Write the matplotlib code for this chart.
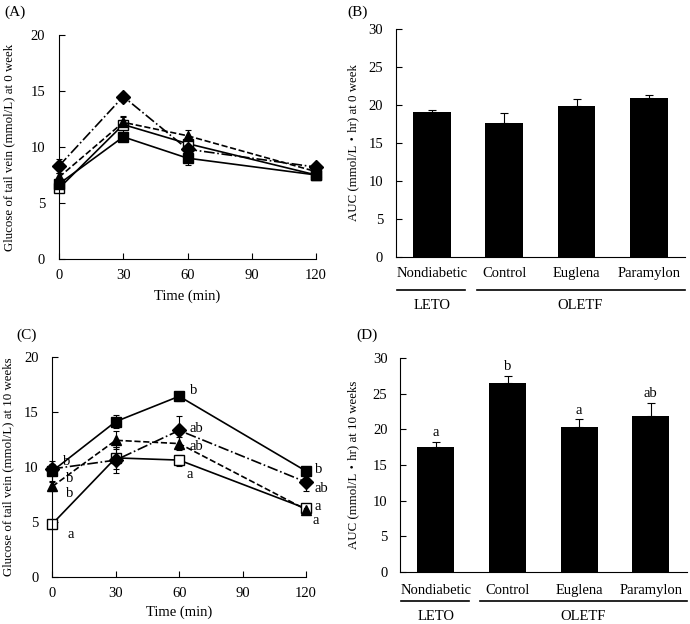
import numpy as np
import matplotlib
matplotlib.use("Agg")
import matplotlib.pyplot as plt

plt.rcParams['font.family'] = ['Liberation Serif', 'Noto Sans CJK JP', 'DejaVu Serif']
plt.rcParams['font.size'] = 10

# time points (min)
time = [0, 30, 60, 120]

# (A) glucose at 0 week
a_control = [6.7, 10.9, 9.0, 7.5]
a_control_err = [0.3, 0.3, 0.6, 0.3]
a_nondiab = [6.3, 12.0, 10.3, 7.5]
a_nondiab_err = [0.3, 0.8, 0.4, 0.2]
a_euglena = [7.3, 12.2, 11.0, 7.8]
a_euglena_err = [0.4, 0.5, 0.5, 0.3]
a_paramylon = [8.3, 14.5, 9.8, 8.2]
a_paramylon_err = [0.6, 0.2, 0.4, 0.2]

# (C) glucose at 10 weeks
c_control = [9.6, 14.1, 16.4, 9.6]
c_control_err = [0.9, 0.6, 0.4, 0.3]
c_nondiab = [4.8, 10.8, 10.6, 6.2]
c_nondiab_err = [0.3, 1.0, 0.5, 0.3]
c_euglena = [8.2, 12.4, 12.1, 6.1]
c_euglena_err = [0.4, 0.8, 0.6, 0.3]
c_paramylon = [9.8, 10.6, 13.3, 8.6]
c_paramylon_err = [0.4, 1.2, 1.3, 0.8]

# letters in (C): (x, y, text)
c_letters_x = [7, 8, 8, 8.5, 67, 68, 68, 65, 126, 127.5, 125.5, 124.5]
c_letters_y = [10.5, 8.9, 7.6, 3.8, 16.9, 13.5, 11.8, 9.3, 9.7, 8.0, 6.4, 5.1]
c_letters = ['b', 'b', 'b', 'a', 'b', 'ab', 'ab', 'a', 'b', 'ab', 'a', 'a']

# AUC bars
groups = ['Nondiabetic', 'Control', 'Euglena', 'Paramylon']
b_auc = [19.1, 17.7, 19.9, 20.9]
b_err = [0.25, 1.3, 0.85, 0.5]
d_auc = [17.6, 26.5, 20.4, 21.9]
d_err = [0.6, 1.0, 1.0, 1.8]
d_letters = ['a', 'b', 'a', 'ab']

fig = plt.figure(figsize=(6.9, 6.24), dpi=100)


def line_panel(ax, data, ylabel, ylab_x, xlab_y):
    styles = [
        ('s', 'white', '-'),
        ('s', 'black', '-'),
        ('^', 'black', '--'),
        ('D', 'black', '-.'),
    ]
    for (y, e), (mk, fc, ls) in zip(data, styles):
        ms = 7.8 if mk == 's' else 6.8
        ax.errorbar(time, y, yerr=e, color='black', marker=mk, mfc=fc,
                    mec='black', ms=ms, ls=ls, lw=1.2, capsize=2.5,
                    elinewidth=0.8, capthick=0.8, clip_on=False)
    ax.set_xlim(0, 120)
    ax.set_ylim(0, 20)
    ax.set_xticks([0, 30, 60, 90, 120])
    ax.set_yticks([0, 5, 10, 15, 20])
    ax.spines['top'].set_visible(False)
    ax.spines['right'].set_visible(False)
    ax.tick_params(axis='x', direction='in', length=4, labelsize=10.5, pad=7.5)
    ax.tick_params(axis='y', direction='in', length=4, labelsize=10.5, pad=10)
    ax.set_xlabel('Time (min)', fontsize=10.5)
    ax.set_ylabel(ylabel, fontsize=9.3)
    ax.yaxis.set_label_coords(ylab_x, 0.5)
    ax.xaxis.set_label_coords(0.5, xlab_y)


def bar_panel(ax, vals, errs, ylabel, ylab_x, ylab_y, line_y, grp_y):
    x = np.arange(len(groups))
    ax.bar(x, vals, width=0.52, color='black')
    ax.errorbar(x, vals, yerr=[np.zeros(len(errs)), errs], fmt='none',
                ecolor='black', capsize=3, elinewidth=0.8, capthick=0.8)
    ax.set_xlim(-0.5, 3.5)
    ax.set_ylim(0, 30)
    ax.set_yticks([0, 5, 10, 15, 20, 25, 30])
    ax.set_xticks([])
    ax.spines['top'].set_visible(False)
    ax.spines['right'].set_visible(False)
    ax.tick_params(axis='y', direction='in', length=4, labelsize=10.5, pad=9)
    ax.set_ylabel(ylabel, fontsize=9.3)
    ax.yaxis.set_label_coords(ylab_x, 0.5)
    tr = ax.get_xaxis_transform()
    for xi, g in zip(x, groups):
        ax.text(xi, ylab_y, g, transform=tr, ha='center', va='center',
                fontsize=10.5)
    ax.plot([-0.48, 0.46], [line_y, line_y], color='black', lw=1.2,
            transform=tr, clip_on=False)
    ax.plot([0.62, 3.5], [line_y, line_y], color='black', lw=1.2,
            transform=tr, clip_on=False)
    ax.text(0, grp_y, 'LETO', transform=tr, ha='center', va='center',
            fontsize=10.5)
    ax.text(2.05, grp_y, 'OLETF', transform=tr, ha='center', va='center',
            fontsize=10.5)
    return x


# (A)
axA = fig.add_axes([0.0855, 0.585, 0.3725, 0.359])
line_panel(axA, [(a_nondiab, a_nondiab_err), (a_control, a_control_err),
                 (a_euglena, a_euglena_err), (a_paramylon, a_paramylon_err)],
           'Glucose of tail vein (mmol/L) at 0 week', -0.171, -0.138)
fig.text(0.007, 0.98, '(A)', fontsize=11, va='center')

# (B)
axB = fig.add_axes([0.5735, 0.5886, 0.4193, 0.3644])
bar_panel(axB, b_auc, b_err, 'AUC (mmol/L\u30fbhr) at 0 week', -0.127,
          -0.076, -0.146, -0.215)
fig.text(0.504, 0.98, '(B)', fontsize=11, va='center')

# (C)
axC = fig.add_axes([0.0758, 0.0758, 0.3677, 0.3526])
line_panel(axC, [(c_nondiab, c_nondiab_err), (c_control, c_control_err),
                 (c_euglena, c_euglena_err), (c_paramylon, c_paramylon_err)],
           'Glucose of tail vein (mmol/L) at 10 weeks', -0.151, -0.133)
for lx, ly, t in zip(c_letters_x, c_letters_y, c_letters):
    axC.text(lx, ly, t, fontsize=10.5, va='center', ha='center')
fig.text(0.024, 0.463, '(C)', fontsize=11, va='center')

# (D)
axD = fig.add_axes([0.5797, 0.0838, 0.4155, 0.342])
xD = bar_panel(axD, d_auc, d_err, 'AUC (mmol/L\u30fbhr) at 10 weeks', -0.143,
               -0.086, -0.136, -0.211)
for xi, v, e, t in zip(xD, d_auc, d_err, d_letters):
    axD.text(xi, v + e + 0.4, t, ha='center', va='bottom', fontsize=10.5)
fig.text(0.517, 0.463, '(D)', fontsize=11, va='center')

fig.savefig('out.png', dpi=100)
